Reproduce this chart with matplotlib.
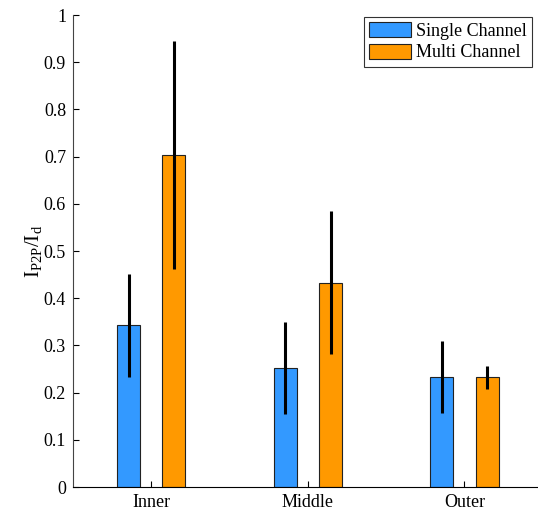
import numpy as np
import matplotlib.pyplot as plt

groups = ['Inner', 'Middle', 'Outer']
single = [0.343, 0.252, 0.233]
single_err = [0.109, 0.097, 0.076]
multi = [0.703, 0.433, 0.232]
multi_err = [0.242, 0.152, 0.024]

plt.rcParams['font.family'] = ['Liberation Serif', 'DejaVu Serif']
plt.rcParams['mathtext.fontset'] = 'custom'
plt.rcParams['mathtext.rm'] = 'Liberation Serif'
plt.rcParams['mathtext.it'] = 'Liberation Serif'

fig = plt.figure(figsize=(5.38, 5.13), dpi=100)
ax = fig.add_axes([73/538, 26/513, 1 - 73/538, 472/513])

x = np.arange(1, len(groups) + 1)
off = 0.145
w = 0.147
ax.bar(x - off, single, w, color='#3399ff', edgecolor='#222222', linewidth=0.8,
       label='Single Channel', zorder=2)
ax.bar(x + off, multi, w, color='#ff9900', edgecolor='#222222', linewidth=0.8,
       label='Multi Channel', zorder=2)
ax.errorbar(x - off, single, yerr=single_err, fmt='none', ecolor='black',
            elinewidth=2.2, capsize=0, zorder=3)
ax.errorbar(x + off, multi, yerr=multi_err, fmt='none', ecolor='black',
            elinewidth=2.2, capsize=0, zorder=3)

ax.set_xlim(0.5, 3.47)
ax.set_ylim(0, 1)
ax.set_xticks(x)
ax.set_xticklabels(groups)
ax.set_yticks(np.arange(0, 1.01, 0.1))
ax.set_yticklabels(['0'] + ['%.1f' % v for v in np.arange(0.1, 0.95, 0.1)] + ['1'])
ax.tick_params(direction='in', labelsize=13, length=4, width=0.8, pad=5)
ax.spines['top'].set_visible(False)
ax.spines['right'].set_visible(False)
ax.spines['left'].set_color('#444444')
ax.set_ylabel(r'$\mathrm{I_{P2P}/I_d}$', fontsize=15, labelpad=0)

leg = ax.legend(loc='upper right', bbox_to_anchor=(0.988, 0.996), fontsize=13,
                fancybox=False, frameon=True, handlelength=2.3, handleheight=0.9,
                borderpad=0.3, labelspacing=0.2, handletextpad=0.3, borderaxespad=0.0)
leg.get_frame().set_edgecolor('black')
leg.get_frame().set_linewidth(0.8)

fig.savefig('out.png', dpi=100)
